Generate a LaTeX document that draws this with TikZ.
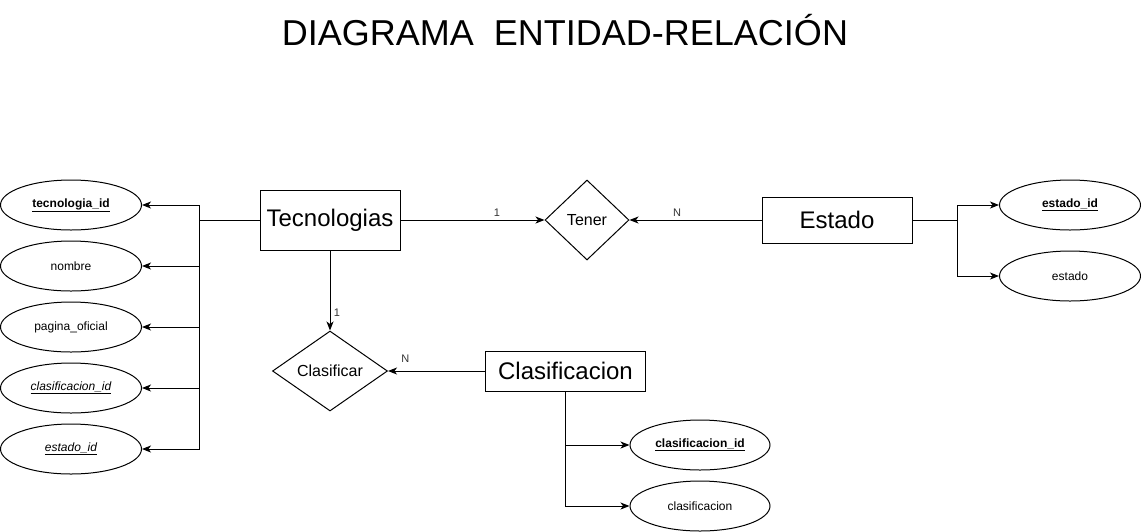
\documentclass[tikz,border=0pt]{standalone}
\usepackage{fontspec}
\setmainfont{Liberation Sans}
\usetikzlibrary{positioning, arrows.meta, calc, shapes.geometric}

\begin{document}
\begin{tikzpicture}[
  x=1pt, y=1pt,
  line width=1pt,
  >={Stealth[length=9pt,width=7pt,inset=2.5pt]},
  entity/.style={
    draw=black, rectangle, inner sep=0pt,
    font=\fontsize{24}{28}\selectfont
  },
  relation/.style={draw=black, diamond, inner sep=0pt, minimum height=80pt,
    font=\fontsize{16}{19}\selectfont},
  attrib/.style={draw=black, ellipse, inner sep=0pt,
    minimum width=141pt, minimum height=50pt,
    font=\fontsize{12}{14}\selectfont},
  card/.style={font=\fontsize{11}{13}\selectfont, text=black!80},
]
\useasboundingbox (0,0) rectangle (1141,-531);

\node[anchor=base, font=\fontsize{36}{40}\selectfont] (title) at (565,-45)
  {DIAGRAMA\ \ ENTIDAD-RELACIÓN};

% entidades y relaciones
\node[entity, minimum width=140pt, minimum height=60pt] (tec) at (330,-220) {Tecnologias};
\node[relation, minimum width=84pt, right=144pt of tec] (tener) {Tener};
\node[entity, minimum width=150pt, minimum height=46pt, right=132pt of tener] (est) {Estado};
\node[relation, minimum width=115pt, below=80pt of tec] (clsf) {Clasificar};
\node[entity, minimum width=160pt, minimum height=40pt, right=97pt of clsf] (clsn) {Clasificacion};

% atributos
\node[attrib] (tecid) at (71,-205) {\textbf{\underline{tecnologia\_id}}};
\node[attrib, below=10pt of tecid] (nombre) {nombre};
\node[attrib, below=10pt of nombre] (pagina) {pagina\_oficial};
\node[attrib, below=10pt of pagina] (clasfk) {\textit{\underline{clasificacion\_id}}};
\node[attrib, below=10pt of clasfk] (estfk) {\textit{\underline{estado\_id}}};

\node[attrib] (estid) at (1070,-205) {\textbf{\underline{estado\_id}}};
\node[attrib, below=20pt of estid] (estado) {estado};

\node[attrib, minimum width=140pt] (clasid) at (700,-445) {\textbf{\underline{clasificacion\_id}}};
\node[attrib, minimum width=140pt, below=10pt of clasid] (clas) {clasificacion};

\coordinate[left=60pt of tec.west] (tj);
\coordinate[right=45pt of est.east] (ej);

% conectores
\draw (tec.west) -- (tj);
\foreach \a in {tecid,nombre,pagina,clasfk,estfk}
  \draw[->] (tj) |- (\a.east);

\draw[->] (tec.east) -- node[card, pos=0.67, above] {1} (tener.west);
\draw[->] (est.west) -- node[card, pos=0.64, above] {N} (tener.east);
\draw[->] (tec.south) -- node[card, pos=0.78, right] {1} (clsf.north);
\draw[->] (clsn.west) -- node[card, pos=0.82, above=5pt] {N} (clsf.east);

\draw (est.east) -- (ej);
\draw[->] (ej) |- (estid.west);
\draw[->] (ej) |- (estado.west);

\draw[->] (clsn.south) |- (clasid.west);
\draw[->] (clsn.south) |- (clas.west);

\end{tikzpicture}
\end{document}
